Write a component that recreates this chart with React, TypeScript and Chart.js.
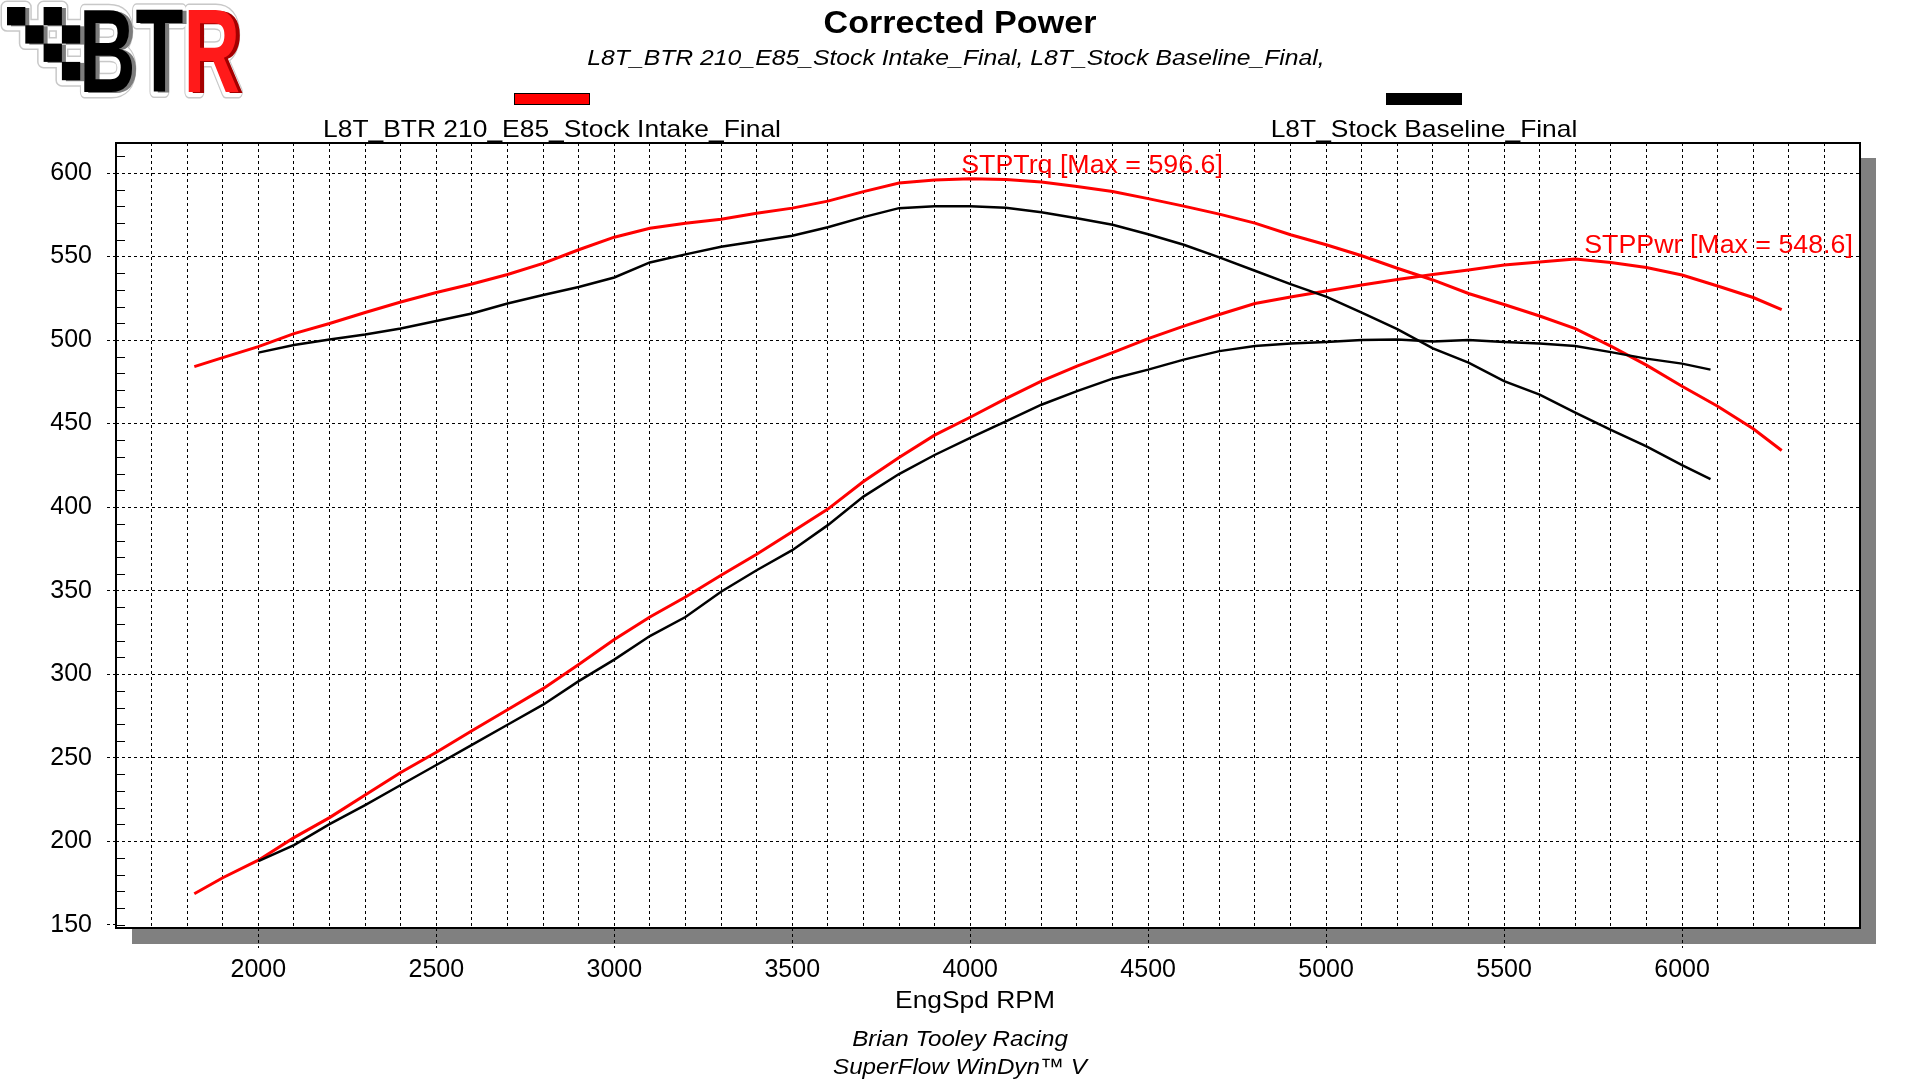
import React, { useEffect, useRef } from 'react';
import { Chart, registerables } from 'chart.js';

Chart.register(...registerables);

// ---- Dyno data -------------------------------------------------------------
// Run 1: L8T_BTR 210_E85_Stock Intake_Final
const rpmBtr = [
  1820, 1900, 2000, 2100, 2200, 2300, 2400, 2500, 2600, 2700, 2800, 2900,
  3000, 3100, 3200, 3300, 3400, 3500, 3600, 3700, 3800, 3900, 4000, 4100,
  4200, 4300, 4400, 4500, 4600, 4700, 4800, 4900, 5000, 5100, 5200, 5300,
  5400, 5500, 5600, 5700, 5800, 5900, 6000, 6100, 6200, 6280,
];
const trqBtr = [
  484.1, 489.5, 496.1, 503.9, 509.9, 516.5, 522.8, 528.5, 533.6, 539.3, 545.9, 554.1,
  561.6, 567.0, 570.0, 572.4, 576.0, 579.0, 583.2, 588.9, 594.0, 595.8, 596.6, 596.1,
  594.6, 591.9, 588.9, 584.7, 580.2, 575.4, 570.0, 563.1, 557.1, 550.5, 543.0, 536.0,
  527.9, 521.3, 514.4, 506.9, 496.4, 485.0, 472.4, 460.4, 446.9, 433.9,
];
const pwrBtr = [
  168.5, 178.1, 188.6, 202.1, 214.1, 227.6, 241.1, 253.2, 266.1, 278.7, 291.3, 305.7,
  320.7, 334.2, 346.2, 359.2, 371.8, 385.3, 398.8, 415.3, 429.7, 443.1, 453.8, 464.9,
  475.4, 484.4, 492.5, 500.9, 508.4, 515.3, 521.9, 525.8, 529.4, 533.0, 536.3, 539.3,
  542.0, 545.0, 546.8, 548.6, 546.5, 543.5, 539.0, 532.4, 525.5, 518.3,
];

// Run 2: L8T_Stock Baseline_Final
const rpmStock = [
  2000, 2100, 2200, 2300, 2400, 2500, 2600, 2700, 2800, 2900, 3000, 3100,
  3200, 3300, 3400, 3500, 3600, 3700, 3800, 3900, 4000, 4100, 4200, 4300,
  4400, 4500, 4600, 4700, 4800, 4900, 5000, 5100, 5200, 5300, 5400, 5500,
  5600, 5700, 5800, 5900, 6000, 6080,
];
const trqStock = [
  492.5, 497.0, 500.3, 503.3, 506.9, 511.4, 515.9, 521.9, 527.0, 531.8, 537.5, 546.5,
  551.3, 555.9, 559.2, 562.5, 567.6, 573.6, 579.0, 580.2, 580.2, 579.3, 576.6, 573.0,
  569.1, 563.4, 557.1, 549.5, 541.5, 533.5, 526.0, 516.5, 506.5, 495.0, 486.5, 475.4,
  467.3, 456.5, 446.2, 436.3, 425.2, 416.8,
];
const pwrStock = [
  188.0, 197.6, 210.2, 221.6, 233.6, 245.6, 257.6, 269.7, 281.7, 295.8, 308.7, 322.8,
  334.2, 349.3, 362.2, 374.2, 389.2, 406.3, 419.8, 431.2, 441.4, 451.4, 461.3, 469.4,
  476.9, 482.3, 488.3, 493.4, 496.4, 497.9, 498.8, 500.0, 500.3, 499.1, 500.0, 498.8,
  497.9, 496.4, 492.8, 488.9, 485.9, 482.3,
];

const runNames = ['L8T_BTR 210_E85_Stock Intake_Final', 'L8T_Stock Baseline_Final'];
const runColors = ['#ff0000', '#000000'];

// Axis ticks
const xTickLabels = [2000, 2500, 3000, 3500, 4000, 4500, 5000, 5500, 6000];
const yTickLabels = [150, 200, 250, 300, 350, 400, 450, 500, 550, 600];
const yMinorStep = 10;

const chartTitle = 'Corrected Power';
const xAxisTitle = 'EngSpd RPM';
const footerLines = ['Brian Tooley Racing', 'SuperFlow WinDyn\u2122 V'];

// ---- Drawing helpers -------------------------------------------------------
const FONT = '"Liberation Sans", Arial, Helvetica, sans-serif';
const CLEAR = 'rgba(0,0,0,0)';

type TextOpts = {
  size: number;
  weight?: string;
  style?: string;
  color?: string;
  align?: CanvasTextAlign;
  sx?: number;
};

function drawText(ctx: CanvasRenderingContext2D, text: string, x: number, y: number, o: TextOpts) {
  ctx.save();
  ctx.font = `${o.style || 'normal'} ${o.weight || 'normal'} ${o.size}px ${FONT}`;
  ctx.fillStyle = o.color || '#000';
  ctx.textAlign = o.align || 'center';
  ctx.textBaseline = 'alphabetic';
  ctx.translate(x, y);
  ctx.scale(o.sx || 1, 1);
  ctx.fillText(text, 0, 0);
  ctx.restore();
}

const toPoints = (xs: number[], ys: number[]) => xs.map((x, i) => ({ x, y: ys[i] }));

// Frame: drop shadow behind the plot, border and inner minor ticks
const framePlugin = {
  id: 'dynoFrame',
  beforeDraw(chart: any) {
    const { ctx, chartArea: a } = chart;
    ctx.save();
    ctx.fillStyle = '#fff';
    ctx.fillRect(0, 0, chart.width, chart.height);
    ctx.fillStyle = '#808080';
    ctx.fillRect(a.left + 16, a.top + 15, a.right - a.left, a.bottom - a.top + 1);
    ctx.fillStyle = '#fff';
    ctx.fillRect(a.left, a.top, a.right - a.left, a.bottom - a.top);
    ctx.restore();
  },
  afterDatasetsDraw(chart: any) {
    const { ctx, chartArea: a } = chart;
    const y = chart.scales.y;
    ctx.save();
    ctx.strokeStyle = '#000';
    ctx.lineWidth = 1;
    for (let v = yTickLabels[0]; v <= y.max; v += yMinorStep) {
      if (v % 50 === 0 && v !== yTickLabels[0]) continue;
      const py = Math.round(y.getPixelForValue(v)) + 0.5;
      ctx.beginPath();
      ctx.moveTo(a.left, py);
      ctx.lineTo(a.left + 9, py);
      ctx.stroke();
    }
    ctx.lineWidth = 2;
    ctx.strokeRect(a.left, a.top, a.right - a.left, a.bottom - a.top);
    ctx.restore();
  },
};

// Titles, legend, peak annotations and footer
const textPlugin = {
  id: 'dynoText',
  afterDraw(chart: any) {
    const ctx: CanvasRenderingContext2D = chart.ctx;
    const xs = chart.scales.x;
    const ys = chart.scales.y;

    drawText(ctx, chartTitle, 960, 33, { size: 31, weight: 'bold', sx: 1.1 });
    drawText(ctx, runNames.join(', ') + ',', 956, 65, { size: 22.5, style: 'italic', sx: 1.1 });

    const legendCenters = [552, 1424];
    runNames.forEach((name, i) => {
      const cx = legendCenters[i];
      ctx.save();
      ctx.fillStyle = runColors[i];
      ctx.fillRect(cx - 38, 93, 76, 12);
      ctx.strokeStyle = '#000';
      ctx.lineWidth = 1;
      ctx.strokeRect(cx - 37.5, 93.5, 75, 11);
      ctx.restore();
      drawText(ctx, name, cx, 137, { size: 24, sx: 1.1 });
    });

    // Peak value labels for the modified run
    const peaks = [
      { name: 'STPTrq', values: trqBtr, dx: -9 },
      { name: 'STPPwr', values: pwrBtr, dx: 9 },
    ];
    peaks.forEach((p) => {
      let iMax = 0;
      p.values.forEach((v, i) => { if (v > p.values[iMax]) iMax = i; });
      const px = xs.getPixelForValue(rpmBtr[iMax]) + p.dx;
      const py = ys.getPixelForValue(p.values[iMax]) - 6;
      drawText(ctx, `${p.name} [Max = ${p.values[iMax].toFixed(1)}]`, px, py, {
        size: 25.5, color: '#ff0000', align: 'left', sx: 1.05,
      });
    });

    drawText(ctx, xAxisTitle, 975, 1008, { size: 24, sx: 1.1 });
    drawText(ctx, footerLines[0], 960, 1046, { size: 22, style: 'italic', sx: 1.1 });
    drawText(ctx, footerLines[1], 960, 1074, { size: 22, style: 'italic', sx: 1.1 });
  },
};

// ---- Logo ------------------------------------------------------------------
const CELL = 18.3;
const checkerCells = [[0, 0], [2, 0], [1, 1], [3, 1], [2, 2], [3, 3]];

function LogoLayer(props: { dx?: number; dy?: number; fill: string; red: string; stroke?: string; sw?: number }) {
  const { dx = 0, dy = 0, fill, red, stroke = 'none', sw = 0 } = props;
  return (
    <g transform={`translate(${dx},${dy})`} stroke={stroke} strokeWidth={sw} strokeLinejoin="round">
      {checkerCells.map(([c, r]) => (
        <rect key={`${c}-${r}`} x={7 + c * CELL} y={7 + r * CELL} width={CELL} height={CELL} fill={fill} />
      ))}
      <text
        x={79}
        y={92}
        fontFamily={FONT}
        fontWeight="bold"
        fontSize={118}
        textLength={161}
        lengthAdjust="spacingAndGlyphs"
        fill={fill}
      >
        BT<tspan fill={red}>R</tspan>
      </text>
    </g>
  );
}

function Logo() {
  return (
    <svg width={260} height={104} style={{ position: 'absolute', left: 0, top: 0, zIndex: 2 }}>
      <LogoLayer fill="#c8c8c8" red="#c8c8c8" stroke="#c8c8c8" sw={13} />
      <LogoLayer fill="#ffffff" red="#ffffff" stroke="#ffffff" sw={10} />
      <LogoLayer dx={4} dy={1} fill="#7c7c7c" red="#a40000" />
      <LogoLayer fill="#000000" red="#ff1a1a" />
    </svg>
  );
}

// ---- Chart -----------------------------------------------------------------
export default function App() {
  const canvasRef = useRef<HTMLCanvasElement | null>(null);

  useEffect(() => {
    const canvas = canvasRef.current;
    if (!canvas) return;
    const tickFont = { family: FONT, size: 25 };

    const chart = new Chart(canvas, {
      type: 'line',
      data: {
        datasets: [
          { label: 'Stock STPTrq', data: toPoints(rpmStock, trqStock), borderColor: runColors[1], borderWidth: 2.5, order: 0 },
          { label: 'Stock STPPwr', data: toPoints(rpmStock, pwrStock), borderColor: runColors[1], borderWidth: 2.5, order: 1 },
          { label: 'BTR STPTrq', data: toPoints(rpmBtr, trqBtr), borderColor: runColors[0], borderWidth: 3, order: 2 },
          { label: 'BTR STPPwr', data: toPoints(rpmBtr, pwrBtr), borderColor: runColors[0], borderWidth: 3, order: 3 },
        ],
      },
      options: {
        responsive: false,
        animation: false,
        devicePixelRatio: 1,
        events: [],
        layout: { padding: { left: 0, top: 143, right: 60, bottom: 0 } },
        elements: { point: { radius: 0 }, line: { tension: 0, fill: false } },
        plugins: { legend: { display: false }, title: { display: false }, tooltip: { enabled: false } },
        scales: {
          x: {
            type: 'linear',
            min: 1600,
            max: 6500,
            afterFit: (s: any) => { s.height = 152; s.paddingLeft = 0; s.paddingRight = 0; },
            ticks: {
              stepSize: 100,
              autoSkip: false,
              maxRotation: 0,
              minRotation: 0,
              padding: 7,
              color: '#000',
              font: tickFont,
              callback: (v: any) => (xTickLabels.includes(Math.round(v)) ? String(Math.round(v)) : ''),
            },
            grid: {
              color: '#000',
              lineWidth: 1,
              tickLength: 20,
              tickWidth: 1,
              tickBorderDash: [3, 3],
              tickColor: (c: any) => (c.tick && xTickLabels.includes(Math.round(c.tick.value)) ? '#000' : CLEAR),
            },
            border: { display: false, dash: [3, 3] },
          },
          y: {
            type: 'linear',
            min: 148,
            max: 618,
            afterFit: (s: any) => { s.width = 116; s.paddingTop = 0; s.paddingBottom = 0; },
            ticks: {
              stepSize: 50,
              includeBounds: false,
              padding: 15,
              color: '#000',
              font: tickFont,
              callback: (v: any) => (yTickLabels.includes(Math.round(v)) ? String(Math.round(v)) : ''),
            },
            grid: {
              color: (c: any) => (c.tick && c.tick.value > yTickLabels[0] ? '#000' : CLEAR),
              lineWidth: 1,
              tickLength: 9,
              tickWidth: 1,
              tickBorderDash: [3, 3],
              tickColor: '#000',
            },
            border: { display: false, dash: [3, 3] },
          },
        },
      } as any,
      plugins: [framePlugin, textPlugin],
    });

    return () => chart.destroy();
  }, []);

  return (
    <div style={{ position: 'absolute', left: 0, top: 0, width: 1920, height: 1080, background: '#fff' }}>
      <canvas
        ref={canvasRef}
        width={1920}
        height={1080}
        style={{ position: 'absolute', left: 0, top: 0, width: 1920, height: 1080, display: 'block' }}
      />
      <Logo />
    </div>
  );
}
